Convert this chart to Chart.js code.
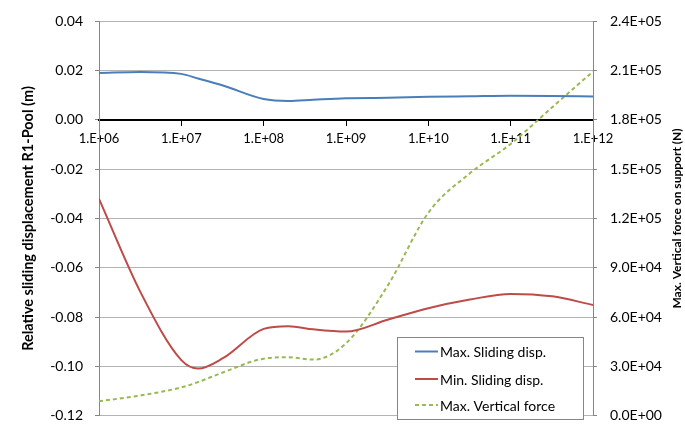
<!DOCTYPE html>
<html>
<head>
<meta charset="utf-8">
<script src="https://cdn.jsdelivr.net/npm/chart.js@4.4.1/dist/chart.umd.min.js"></script>
<style>
  html, body { margin: 0; padding: 0; background: #ffffff; }
  #wrap { width: 685px; height: 437px; position: relative; }
</style>
</head>
<body>
<div id="wrap"><canvas id="chart" width="685" height="437"></canvas></div>
<script>
// Frequency of the sweep (log axis)
const frequency = [1e6, 3.2e6, 1e7, 1.6e7, 3.2e7, 1e8, 2e8, 4e8, 1e9, 3.2e9, 1e10, 3.2e10, 1e11, 3.2e11, 1e12];

// Relative sliding displacement R1-Pool (m)
const maxSliding = [0.0191, 0.0195, 0.0187, 0.0168, 0.0140, 0.0085, 0.0077, 0.0082, 0.0088, 0.0090, 0.0094, 0.0096, 0.0098, 0.0097, 0.0095];
const minSliding = [-0.0320, -0.0700, -0.0975, -0.1009, -0.0967, -0.0848, -0.0837, -0.0850, -0.0859, -0.0811, -0.0764, -0.0729, -0.0706, -0.0716, -0.0751];

// Max. vertical force on support (N)
const maxVerticalForce = [8760, 12260, 17160, 20430, 26270, 34670, 35500, 34090, 44000, 79000, 123500, 147500, 165400, 187800, 209500];

// Axis ticks
const xTickValues = [1e6, 1e7, 1e8, 1e9, 1e10, 1e11, 1e12];
const xTickLabels = ['1.E+06', '1.E+07', '1.E+08', '1.E+09', '1.E+10', '1.E+11', '1.E+12'];
const leftTickLabels = ['-0.12', '-0.10', '-0.08', '-0.06', '-0.04', '-0.02', '0.00', '0.02', '0.04'];
const rightTickLabels = ['0.0E+00', '3.0E+04', '6.0E+04', '9.0E+04', '1.2E+05', '1.5E+05', '1.8E+05', '2.1E+05', '2.4E+05'];

const seriesNames = ['Max. Sliding disp.', 'Min. Sliding disp.', 'Max. Vertical force'];
const leftTitle = 'Relative sliding displacement R1-Pool (m)';
const rightTitle = 'Max. Vertical force on support (N)';

const FONT = 'Lato, "Open Sans", sans-serif';

function points(xs, ys) {
  return xs.map((x, i) => ({ x: x, y: ys[i] }));
}

// Axis titles (both read bottom-to-top) and the boxed legend inside the plot
const overlay = {
  id: 'overlay',
  afterDraw(chart) {
    const c = chart.ctx;
    const a = chart.chartArea;
    const cy = (a.top + a.bottom) / 2;
    c.save();
    c.fillStyle = '#000000';
    c.textAlign = 'center';
    c.textBaseline = 'middle';

    c.save();
    c.font = 'bold 14.5px ' + FONT;
    c.translate(28, cy);
    c.rotate(-Math.PI / 2);
    c.fillText(leftTitle, 0, 0);
    c.restore();

    c.save();
    c.font = 'bold 12px ' + FONT;
    c.translate(677, cy);
    c.rotate(-Math.PI / 2);
    c.fillText(rightTitle, 0, 0);
    c.restore();

    // legend
    const bx = 397.5, by = 337.5, bw = 186, bh = 82;
    c.fillStyle = '#ffffff';
    c.fillRect(bx, by, bw, bh);
    c.strokeStyle = '#868686';
    c.lineWidth = 1;
    c.strokeRect(bx, by, bw, bh);

    const rows = [351.5, 379, 405];
    c.textAlign = 'left';
    c.font = '14px ' + FONT;
    chart.data.datasets.forEach((ds, i) => {
      c.beginPath();
      c.strokeStyle = ds.borderColor;
      c.lineWidth = 2;
      c.setLineDash(ds.borderDash || []);
      c.moveTo(415, rows[i]);
      c.lineTo(438, rows[i]);
      c.stroke();
      c.setLineDash([]);
      c.fillStyle = '#000000';
      c.fillText(ds.label, 440, rows[i] + 1);
    });
    c.restore();
  }
};

const lineStyle = {
  borderWidth: 2,
  pointRadius: 0,
  cubicInterpolationMode: 'monotone',
  fill: false
};

new Chart(document.getElementById('chart'), {
  type: 'line',
  data: {
    datasets: [
      Object.assign({
        label: seriesNames[0],
        data: points(frequency, maxSliding),
        yAxisID: 'y',
        borderColor: '#4A7EBB'
      }, lineStyle),
      Object.assign({
        label: seriesNames[1],
        data: points(frequency, minSliding),
        yAxisID: 'y',
        borderColor: '#BE4B48'
      }, lineStyle),
      Object.assign({
        label: seriesNames[2],
        data: points(frequency, maxVerticalForce),
        yAxisID: 'y1',
        borderColor: '#98B954',
        borderDash: [4, 3]
      }, lineStyle)
    ]
  },
  options: {
    responsive: false,
    animation: false,
    events: [],
    layout: { padding: { top: 15, bottom: 10, left: 0, right: 0 } },
    plugins: {
      legend: { display: false },
      tooltip: { enabled: false }
    },
    scales: {
      x: {
        type: 'logarithmic',
        position: { y: 0 },
        min: 1e6,
        max: 1e12,
        afterBuildTicks: (s) => { s.ticks = xTickValues.map(v => ({ value: v })); },
        ticks: {
          autoSkip: false,
          maxRotation: 0,
          padding: 6,
          color: '#000000',
          font: { family: FONT, size: 13 },
          callback: (v, i) => xTickLabels[i]
        },
        grid: {
          drawOnChartArea: false,
          drawTicks: true,
          tickLength: 5,
          tickColor: '#000000',
          color: '#000000'
        },
        border: { display: true, color: '#000000', width: 2 }
      },
      y: {
        position: 'left',
        min: -0.12,
        max: 0.04,
        afterFit: (s) => { s.width = 99; },
        ticks: {
          stepSize: 0.02,
          padding: 12,
          color: '#000000',
          font: { family: FONT, size: 14 },
          callback: (v, i) => leftTickLabels[i]
        },
        grid: {
          color: '#B4B4B4',
          lineWidth: 1,
          drawTicks: true,
          tickLength: 4,
          tickColor: '#868686'
        },
        border: { display: true, color: '#868686', width: 1 }
      },
      y1: {
        position: 'right',
        min: 0,
        max: 240000,
        afterFit: (s) => { s.width = 92; },
        ticks: {
          stepSize: 30000,
          padding: 13,
          color: '#000000',
          font: { family: FONT, size: 14 },
          callback: (v, i) => rightTickLabels[i]
        },
        grid: {
          drawOnChartArea: false,
          drawTicks: true,
          tickLength: 4,
          tickColor: '#868686'
        },
        border: { display: true, color: '#868686', width: 1 }
      }
    }
  },
  plugins: [overlay]
});
</script>
</body>
</html>
